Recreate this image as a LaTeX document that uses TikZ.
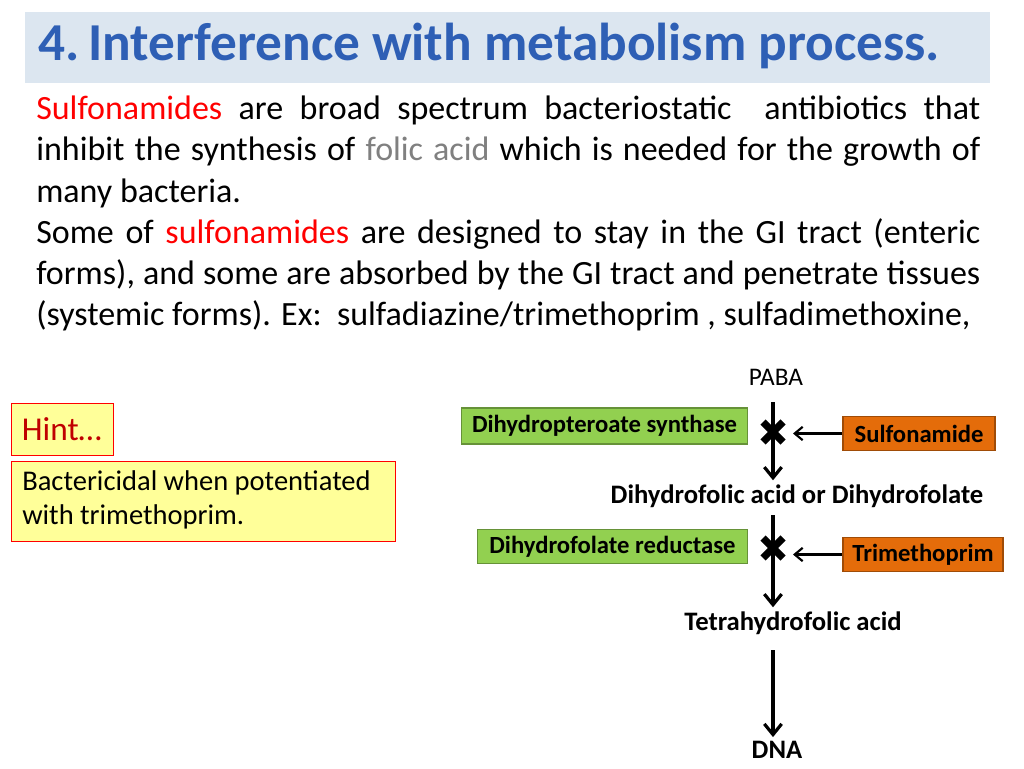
\documentclass[tikz,border=0pt]{standalone}
\usepackage{fontspec}
\setmainfont{Carlito}
\usetikzlibrary{arrows.meta}
\definecolor{titlebg}{HTML}{DCE6F0}
\definecolor{titleblue}{HTML}{2E5FB5}
\definecolor{gbox}{HTML}{92D050}
\definecolor{obox}{HTML}{E46C0A}
\definecolor{hintfill}{HTML}{FFFF99}
\definecolor{hintred}{HTML}{C00000}
\begin{document}
\begin{tikzpicture}[x=0.75pt,y=-0.75pt,
  enz/.style={draw=gbox!70!black,fill=gbox,line width=0.8pt,font=\bfseries\fontsize{18.5}{21}\selectfont,inner sep=0pt},
  drug/.style={draw=obox!70!black,fill=obox,line width=0.8pt,font=\bfseries\fontsize{18.5}{21}\selectfont,inner sep=0pt},
  mol/.style={font=\bfseries\fontsize{20}{24}\selectfont,inner sep=1pt},
  arr/.style={line width=2.4pt,shorten >=2pt,-{Straight Barb[length=8pt,width=13pt,line width=2.4pt]}},
  harr/.style={line width=1.6pt,-{Straight Barb[length=6pt,width=10pt,line width=1.6pt]}},
  xmark/.style={line width=5.5pt}]
\useasboundingbox (0,0) rectangle (1024,768);
\fill[white] (0,0) rectangle (1024,768);
\fill[titlebg] (25,12) rectangle (990,83);
\node[anchor=west,inner sep=0pt,text=titleblue,font=\bfseries\fontsize{40}{44}\selectfont] (title) at (38,46) {4.\,Interference with metabolism process.};
\node[anchor=north west,inner sep=0pt,text width=708pt,align=justify,font=\fontsize{25.5}{30.8}\selectfont] (body) at (36,96)
{\hyphenpenalty=10000 \textcolor{red}{Sulfonamides} are broad spectrum bacteriostatic\ \ antibiotics that\linebreak inhibit the synthesis of \textcolor{gray}{folic acid} which is needed for the growth of\linebreak many bacteria.\\
Some of \textcolor{red}{sulfonamides} are designed to stay in the GI tract (enteric forms), and some are absorbed by the GI tract and penetrate tissues (systemic forms). Ex:\ \ sulfadiazine/trimethoprim , sulfadimethoxine,\hfill\null};
\node[draw=red,fill=hintfill,minimum width=76.5pt,minimum height=39pt,anchor=north west,inner sep=0pt] (hint) at (11,403) {};
\node[text=hintred,font=\fontsize{25}{28}\selectfont,anchor=west,inner sep=0pt] (hintt) at ([xshift=8pt]hint.west) {Hint…};
\node[draw=red,fill=hintfill,minimum width=288pt,minimum height=60pt,anchor=north west,inner sep=0pt] (bact) at (11,461) {};
\node[anchor=north west,align=left,font=\fontsize{21.4}{26}\selectfont,inner sep=0pt] (bactt) at (22,470) {Bactericidal when potentiated\\with trimethoprim.};
\node[font=\fontsize{19}{22}\selectfont] (paba) at (776,377) {PABA};
\node[enz,minimum width=215pt,minimum height=27pt] (e1) at (604.5,426) {Dihydropteroate synthase};
\node[drug,minimum width=114pt,minimum height=26pt] (s1) at (919,433.5) {Sulfonamide};
\node[mol] (dhf) at (797,496) {Dihydrofolic acid or Dihydrofolate};
\node[enz,minimum width=203pt,minimum height=26pt] (e2) at (612.5,546.5) {Dihydrofolate reductase};
\node[drug,minimum width=120pt,minimum height=26pt] (s2) at (923,554.5) {Trimethoprim};
\node[mol] (thf) at (793,623) {Tetrahydrofolic acid};
\node[mol] (dna) at (777,750) {DNA};
\coordinate (x1) at (773,432);
\coordinate (x2) at (773,548);
\draw[arr] (773,402) -- (dhf.north -| x1);
\draw[arr] (773,515) -- (thf.north -| x2);
\draw[arr] (773,650) -- (dna.north -| x2);
\draw[xmark] (763,422) -- (783,442) (763,442) -- (783,422);
\draw[xmark] (763,538) -- (783,558) (763,558) -- (783,538);
\draw[harr] (s1.west) -- (793,433.5);
\draw[harr] (s2.west) -- (793,554.5);
\end{tikzpicture}
\end{document}
